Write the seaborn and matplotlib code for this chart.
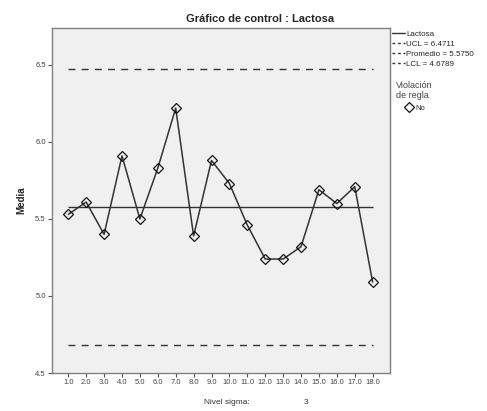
import matplotlib
matplotlib.use("Agg")
import matplotlib.pyplot as plt
from matplotlib.lines import Line2D
import pandas as pd
import seaborn as sns

# data
muestra = list(range(1, 19))
media = [5.53, 5.61, 5.40, 5.91, 5.50, 5.83, 6.22, 5.39, 5.88,
         5.73, 5.46, 5.24, 5.24, 5.32, 5.69, 5.60, 5.71, 5.09]
ucl = 6.4711
promedio = 5.5750
lcl = 4.6789
tick_labels = [f"{m:.1f}" for m in muestra]
y_ticks = [4.5, 5.0, 5.5, 6.0, 6.5]

df = pd.DataFrame({"muestra": muestra, "media": media})

sns.set_style("white")
plt.rcParams["font.family"] = ["Liberation Sans", "DejaVu Sans"]

fig = plt.figure(figsize=(4.87, 4.11), dpi=100)
ax = fig.add_axes([52 / 487, 1 - 373 / 411, (390 - 52) / 487, (373 - 28) / 411])
ax.set_facecolor("#f0f0f0")

line_col = "#333333"
ax.hlines([ucl, lcl], 1, 18, colors=line_col, linestyles=(0, (5, 4.5)), lw=1.0)
ax.hlines(promedio, 1, 18, colors=line_col, lw=1.0)

sns.lineplot(data=df, x="muestra", y="media", ax=ax, color=line_col, lw=1.1,
             marker="D", markersize=5, markerfacecolor="none",
             markeredgecolor="#111111", markeredgewidth=0.9)

ax.set_xlim(0.09, 18.97)
ax.set_ylim(4.5, 6.74)
ax.set_xticks(muestra)
ax.set_xticklabels(tick_labels)
ax.set_yticks(y_ticks)
ax.set_yticklabels([f"{v:.1f}" for v in y_ticks])
ax.tick_params(axis="both", labelsize=5.5, labelcolor="#444444", length=3,
               width=0.8, color="#555555", pad=1.5, direction="out",
               bottom=True, left=True)
for s in ax.spines.values():
    s.set_color("#808080")
    s.set_linewidth(1.0)

ax.set_xlabel("")
ax.set_ylabel("Media", fontsize=7, fontweight="bold", labelpad=6)

fig.text(260 / 487, 1 - 19 / 411, "Gráfico de control : Lactosa",
         ha="center", va="center", fontsize=8, fontweight="bold")
fig.text(227 / 487, 1 - 402 / 411, "Nivel sigma:", ha="center", va="center",
         fontsize=6, color="#333333")
fig.text(306 / 487, 1 - 402 / 411, "3", ha="center", va="center",
         fontsize=6, color="#333333")

handles = [
    Line2D([], [], color=line_col, lw=1.0),
    Line2D([], [], color=line_col, lw=1.0, ls=(0, (2, 2))),
    Line2D([], [], color=line_col, lw=1.0, ls=(0, (2, 2))),
    Line2D([], [], color=line_col, lw=1.0, ls=(0, (2, 2))),
]
labels = ["Lactosa", f"UCL = {ucl:.4f}", f"Promedio = {promedio:.4f}",
          f"LCL = {lcl:.4f}"]
leg1 = fig.legend(handles, labels, loc="upper left",
                  bbox_to_anchor=(392 / 487, 1 - 30 / 411), frameon=False,
                  fontsize=5.8, handlelength=1.6, handletextpad=0.2,
                  labelspacing=0.3, borderaxespad=0, borderpad=0)
leg2 = fig.legend([Line2D([], [], ls="none", marker="D", markersize=5,
                          markerfacecolor="none", markeredgecolor="#111111",
                          markeredgewidth=0.9)],
                  ["No"], title="Violación\nde regla", loc="upper left",
                  bbox_to_anchor=(396 / 487, 1 - 81 / 411), frameon=False,
                  fontsize=5.5, title_fontsize=6.5, handlelength=1.6,
                  handletextpad=0.0, borderaxespad=0, borderpad=0)
plt.setp(leg2.get_title(), color="#444444")

fig.savefig("out.png", dpi=100)
